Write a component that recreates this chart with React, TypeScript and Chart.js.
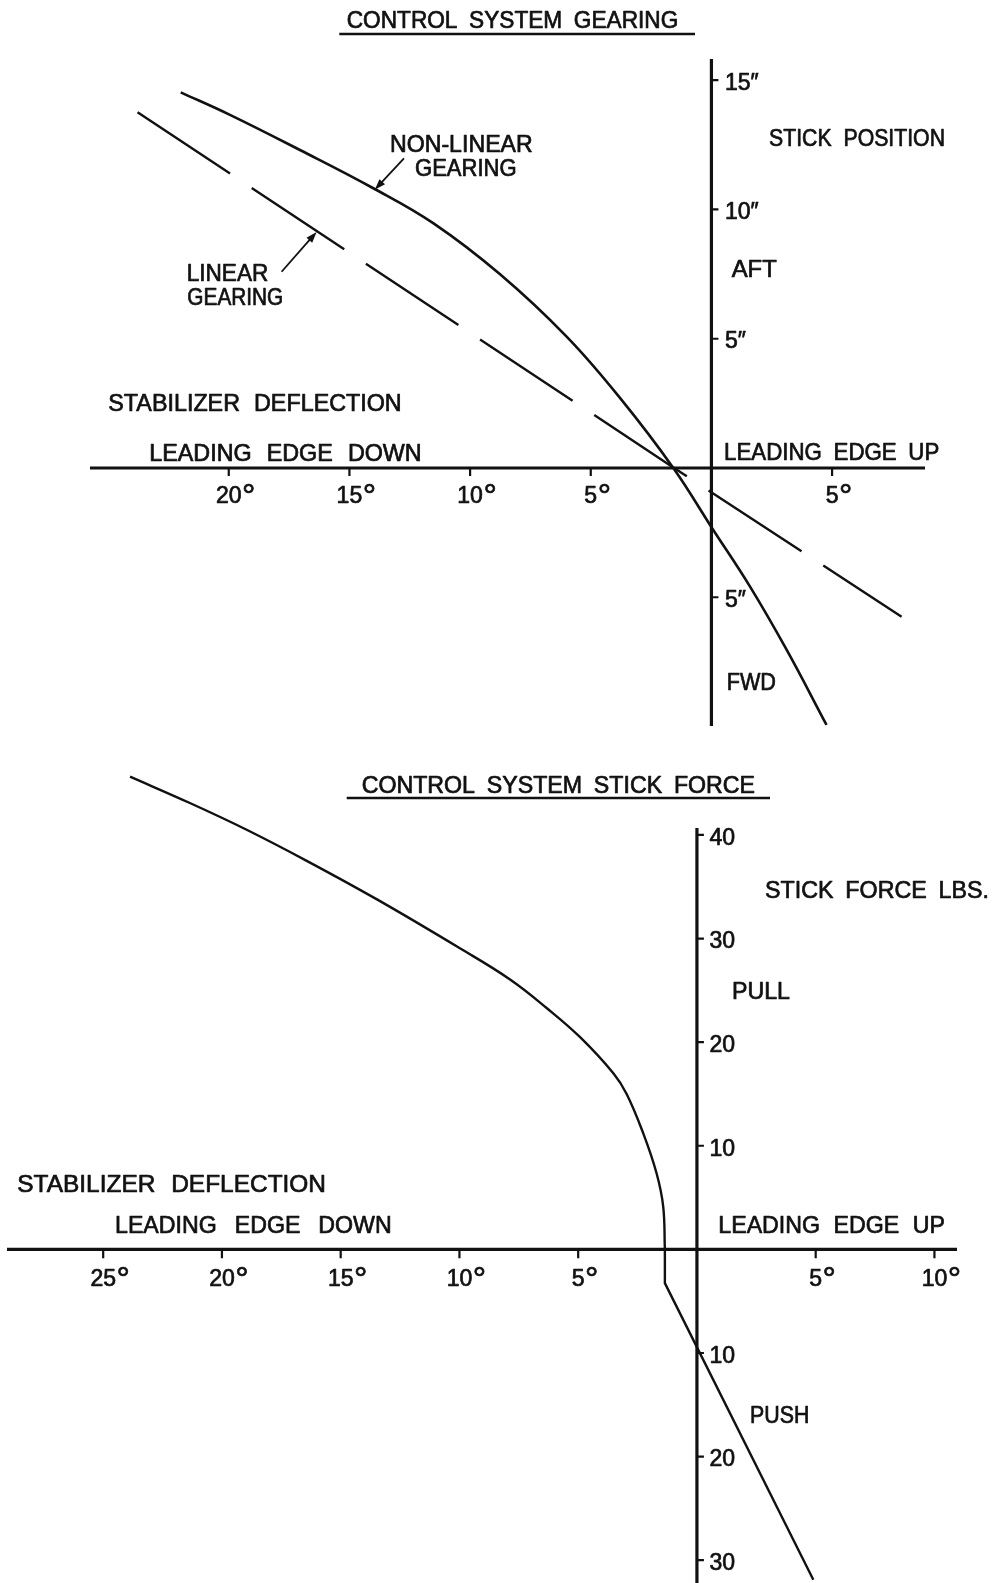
import React, { useEffect, useRef } from 'react';
import { Chart, registerables } from 'chart.js';

Chart.register(...registerables);

// ---------------- DATA: top chart, control system gearing ----------------
// stabilizer deflection in degrees (negative = leading edge down), stick position in inches (positive = aft)
const GEAR_NONLINEAR_X = [-21.99, -19.95, -17.05, -14.03, -11.53, -8.77, -6.0, -3.79, -1.58, 0.03, 1.6, 3.12, 4.77];
const GEAR_NONLINEAR_Y = [14.53, 13.66, 12.3, 10.83, 9.47, 7.5, 5.08, 2.71, 0, -2.33, -4.59, -7.04, -9.94];
const GEAR_LINEAR_X = [-23.78, -1.55, 7.88];
const GEAR_LINEAR_Y = [13.76, 0, -5.75];
const GEAR_X_TICKS = [-20, -15, -10, -5, 5];
const GEAR_Y_TICKS = [15, 10, 5, -5];
const GEAR_Y_TICK_LABELS = ['15\u2033', '10\u2033', '5\u2033', '5\u2033'];

// ---------------- DATA: bottom chart, control system stick force ----------------
// stabilizer deflection in degrees, stick force in lbs (positive = pull)
const FORCE_PULL_X = [-23.87, -21.35, -18.96, -16.43, -13.49, -9.98, -7.87, -6.33, -4.93, -3.52, -2.96, -2.26, -1.7, -1.42, -1.35];
const FORCE_PULL_Y = [45.62, 43.08, 40.5, 37.5, 33.8, 29.06, 26.05, 23.3, 20.5, 17.0, 15.0, 11.2, 7.35, 4.13, 0];
const FORCE_PUSH_X = [-1.35, -1.35, 4.9];
const FORCE_PUSH_Y = [0, -3.26, -31.89];
const FORCE_X_TICKS = [-25, -20, -15, -10, -5, 5, 10];
const FORCE_Y_TICKS = [40, 30, 20, 10, -10, -20, -30];
const FORCE_Y_TICK_LABELS = ['40', '30', '20', '10', '10', '20', '30'];

const INK = '#111';
const FONT = '"Liberation Sans", Arial, Helvetica, sans-serif';
const TEXT_STROKE = 0.7;

const pts = (xs: number[], ys: number[]) => xs.map((x, i) => ({ x, y: ys[i] }));

type TextSpec = [string, number, number, number, number]; // text, left, right, top, capHeight

function inkText(ctx: CanvasRenderingContext2D, s: string, x: number, y: number) {
  ctx.fillText(s, x, y);
  ctx.strokeText(s, x, y);
}

function fitText(ctx: CanvasRenderingContext2D, t: TextSpec) {
  const [text, left, right, top, cap] = t;
  const size = cap / 0.716;
  ctx.font = `${size}px ${FONT}`;
  ctx.textAlign = 'left';
  ctx.textBaseline = 'alphabetic';
  const base = top + cap;
  const target = right - left;
  const words = text.split(' ');
  const widths = words.map((w) => ctx.measureText(w).width);
  const sum = widths.reduce((a, b) => a + b, 0);
  const g = words.length - 1;
  const minGap = ctx.measureText(' ').width * 1.8;
  let f = 1;
  let gap = 0;
  if (g === 0) f = target / sum;
  else if (sum + g * minGap <= target) gap = (target - sum) / g;
  else {
    gap = minGap;
    f = (target - g * minGap) / sum;
  }
  let x = left;
  words.forEach((w, i) => {
    ctx.save();
    ctx.translate(x, base);
    ctx.scale(f, 1);
    inkText(ctx, w, 0, 0);
    ctx.restore();
    x += widths[i] * f + gap;
  });
}

interface DecorSpec {
  id: string;
  vAxisTop?: number;
  xTicks: number[];
  xLabelTop: number;
  xTickLen: number;
  yTicks: number[];
  yTickLabels: string[];
  yLabelGap: number;
  yTickLen: number;
  cap: number;
  texts: TextSpec[];
  underline: [number, number, number];
  arrows: [number, number, number, number][]; // data coords: from x,y -> tip x,y
}

function makeDecor(spec: DecorSpec) {
  return {
    id: spec.id,
    beforeDatasetsDraw(chart: any) {
      const ctx: CanvasRenderingContext2D = chart.ctx;
      const { left, right, top, bottom } = chart.chartArea;
      const xs = chart.scales.x;
      const ys = chart.scales.y;
      const x0 = xs.getPixelForValue(0);
      const y0 = ys.getPixelForValue(0);
      ctx.save();
      ctx.strokeStyle = INK;
      ctx.lineWidth = 3.2;
      ctx.beginPath();
      ctx.moveTo(left, y0);
      ctx.lineTo(right, y0);
      const vt = spec.vAxisTop != null ? ys.getPixelForValue(spec.vAxisTop) : top;
      ctx.moveTo(x0, vt);
      ctx.lineTo(x0, bottom);
      ctx.stroke();
      ctx.lineWidth = 2.2;
      ctx.beginPath();
      spec.xTicks.forEach((v) => {
        const px = xs.getPixelForValue(v);
        ctx.moveTo(px, y0);
        ctx.lineTo(px, y0 + spec.xTickLen);
      });
      spec.yTicks.forEach((v) => {
        const py = ys.getPixelForValue(v);
        ctx.moveTo(x0, py);
        ctx.lineTo(x0 + spec.yTickLen, py);
      });
      ctx.stroke();
      ctx.restore();
    },
    afterDraw(chart: any) {
      const ctx: CanvasRenderingContext2D = chart.ctx;
      const xs = chart.scales.x;
      const ys = chart.scales.y;
      const x0 = xs.getPixelForValue(0);
      const y0 = ys.getPixelForValue(0);
      ctx.save();
      ctx.fillStyle = INK;
      ctx.strokeStyle = INK;
      ctx.lineWidth = TEXT_STROKE;
      ctx.lineJoin = 'round';
      const cap = spec.cap;
      const size = cap / 0.716;
      ctx.textBaseline = 'alphabetic';
      ctx.textAlign = 'left';
      // x tick labels with degree sign
      spec.xTicks.forEach((v) => {
        const px = xs.getPixelForValue(v);
        const num = String(Math.abs(v));
        ctx.font = `${size}px ${FONT}`;
        const w = ctx.measureText(num).width;
        const base = y0 + spec.xLabelTop + cap;
        inkText(ctx, num, px - w / 2, base);
        ctx.font = `${size * 1.45}px ${FONT}`;
        inkText(ctx, '\u00B0', px + w / 2 + 0.5, base + cap * 0.2);
      });
      // y tick labels
      ctx.font = `${size}px ${FONT}`;
      spec.yTicks.forEach((v, i) => {
        const py = ys.getPixelForValue(v);
        inkText(ctx, spec.yTickLabels[i], x0 + spec.yLabelGap, py + cap / 2 + 1.5);
      });
      spec.texts.forEach((t) => fitText(ctx, t));
      // title underline
      const [ux1, ux2, uy] = spec.underline;
      ctx.lineWidth = 2.6;
      ctx.beginPath();
      ctx.moveTo(ux1, uy);
      ctx.lineTo(ux2, uy);
      ctx.stroke();
      // arrows
      spec.arrows.forEach(([fx, fy, tx, ty]) => {
        const ax = xs.getPixelForValue(fx);
        const ay = ys.getPixelForValue(fy);
        const bx = xs.getPixelForValue(tx);
        const by = ys.getPixelForValue(ty);
        const ang = Math.atan2(by - ay, bx - ax);
        const L = 11;
        const W = 3.8;
        ctx.lineWidth = 1.8;
        ctx.beginPath();
        ctx.moveTo(ax, ay);
        ctx.lineTo(bx - Math.cos(ang) * (L - 2), by - Math.sin(ang) * (L - 2));
        ctx.stroke();
        ctx.beginPath();
        ctx.moveTo(bx, by);
        ctx.lineTo(bx - Math.cos(ang) * L - Math.sin(ang) * W, by - Math.sin(ang) * L + Math.cos(ang) * W);
        ctx.lineTo(bx - Math.cos(ang) * L + Math.sin(ang) * W, by - Math.sin(ang) * L - Math.cos(ang) * W);
        ctx.closePath();
        ctx.fill();
      });
      ctx.restore();
    },
  };
}

const baseOptions = (pad: any, xr: [number, number], yr: [number, number]) => ({
  animation: false as const,
  responsive: false,
  maintainAspectRatio: false,
  devicePixelRatio: 1,
  events: [] as any[],
  layout: { padding: pad },
  plugins: { legend: { display: false }, tooltip: { enabled: false }, title: { display: false } },
  scales: {
    x: { type: 'linear' as const, min: xr[0], max: xr[1], display: false },
    y: { type: 'linear' as const, min: yr[0], max: yr[1], display: false },
  },
});

function GearingChart() {
  const ref = useRef<HTMLCanvasElement>(null);
  useEffect(() => {
    if (!ref.current) return;
    const decor = makeDecor({
      id: 'gearDecor',
      xTicks: GEAR_X_TICKS,
      xLabelTop: 19,
      xTickLen: 8,
      yTicks: GEAR_Y_TICKS,
      yTickLabels: GEAR_Y_TICK_LABELS,
      yLabelGap: 13.5,
      yTickLen: 7,
      cap: 16.5,
      texts: [
        ['CONTROL SYSTEM GEARING', 346.7, 678.3, 11.7, 16.6],
        ['NON-LINEAR', 390, 532.7, 135, 16.7],
        ['GEARING', 415, 516.7, 159.3, 16.7],
        ['LINEAR', 186.7, 268.3, 264, 16.5],
        ['GEARING', 187.3, 283.3, 288, 16.7],
        ['STICK POSITION', 769, 945, 129, 17],
        ['AFT', 731.7, 776.7, 260, 17],
        ['FWD', 726.7, 776, 673, 16.5],
        ['STABILIZER DEFLECTION', 108.3, 401.7, 394.3, 16.7],
        ['LEADING EDGE DOWN', 149.3, 421.7, 444.3, 16.7],
        ['LEADING EDGE UP', 724, 939.3, 443.3, 16.7],
      ],
      underline: [339.3, 695, 34],
      arrows: [
        [-12.74, 11.98, -13.95, 10.76],
        [-17.81, 7.59, -16.36, 9.13],
      ],
    });
    const chart = new Chart(ref.current, {
      type: 'line',
      data: {
        datasets: [
          {
            label: 'Non-linear gearing',
            data: pts(GEAR_NONLINEAR_X, GEAR_NONLINEAR_Y),
            borderColor: INK,
            borderWidth: 2.6,
            pointRadius: 0,
            tension: 0.4,
            fill: false,
          },
          {
            label: 'Linear gearing',
            data: pts(GEAR_LINEAR_X, GEAR_LINEAR_Y),
            borderColor: INK,
            borderWidth: 2.4,
            borderDash: [111, 26],
            pointRadius: 0,
            tension: 0,
            fill: false,
          },
        ],
      },
      options: baseOptions({ left: 90, right: 77, top: 59, bottom: 14 }, [-25.75, 8.85], [-9.98, 15.82]) as any,
      plugins: [decor],
    });
    return () => chart.destroy();
  }, []);
  return (
    <canvas
      ref={ref}
      width={1002}
      height={740}
      style={{ position: 'absolute', left: 0, top: 0, width: 1002, height: 740 }}
    />
  );
}

function ForceChart() {
  const ref = useRef<HTMLCanvasElement>(null);
  useEffect(() => {
    if (!ref.current) return;
    const decor = makeDecor({
      id: 'forceDecor',
      vAxisTop: 40.67,
      xTicks: FORCE_X_TICKS,
      xLabelTop: 20.5,
      xTickLen: 9,
      yTicks: FORCE_Y_TICKS,
      yTickLabels: FORCE_Y_TICK_LABELS,
      yLabelGap: 12.5,
      yTickLen: 7,
      cap: 16.5,
      texts: [
        ['CONTROL SYSTEM STICK FORCE', 361.7, 755, 36.7, 16.6],
        ['STICK FORCE LBS.', 765, 989, 141, 17],
        ['PULL', 732, 790, 242, 16.5],
        ['PUSH', 750, 809.3, 666.7, 16.6],
        ['STABILIZER DEFLECTION', 17.3, 326, 434, 17.5],
        ['LEADING EDGE DOWN', 115, 391.7, 476.7, 16.6],
        ['LEADING EDGE UP', 718.3, 945, 476, 16.6],
      ],
      underline: [346.7, 770, 58],
      arrows: [],
    });
    const chart = new Chart(ref.current, {
      type: 'line',
      data: {
        datasets: [
          {
            label: 'Pull',
            data: pts(FORCE_PULL_X, FORCE_PULL_Y),
            borderColor: INK,
            borderWidth: 2.4,
            pointRadius: 0,
            tension: 0.4,
            fill: false,
          },
          {
            label: 'Push',
            data: pts(FORCE_PUSH_X, FORCE_PUSH_Y),
            borderColor: INK,
            borderWidth: 2.4,
            pointRadius: 0,
            tension: 0,
            fill: false,
          },
        ],
      },
      options: baseOptions({ left: 7, right: 45, top: 22.4, bottom: 0 }, [-29.05, 10.95], [-32.2, 47]) as any,
      plugins: [decor],
    });
    return () => chart.destroy();
  }, []);
  return (
    <canvas
      ref={ref}
      width={1002}
      height={843}
      style={{ position: 'absolute', left: 0, top: 740, width: 1002, height: 843 }}
    />
  );
}

export default function App() {
  return (
    <div style={{ position: 'absolute', left: 0, top: 0, width: 1002, height: 1583, background: '#fff', overflow: 'hidden' }}>
      <GearingChart />
      <ForceChart />
    </div>
  );
}
